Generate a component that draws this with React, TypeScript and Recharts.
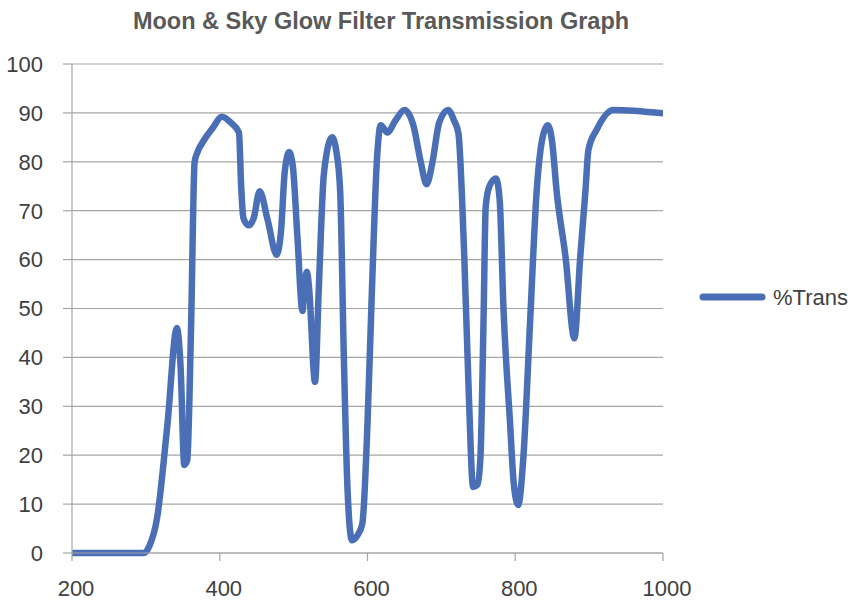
import React from 'react';
import { LineChart, Line, XAxis, YAxis, CartesianGrid, Legend } from 'recharts';

const title = 'Moon & Sky Glow Filter Transmission Graph';
const seriesName = '%Trans';

const wavelengths = [
  200, 250, 297, 305, 315, 329, 342, 347, 352, 356, 361, 366, 370, 379, 390, 403, 415, 426,
  429, 432, 439, 446, 454, 465, 477, 483, 488, 494, 499, 505, 512, 515, 518, 521, 529, 534,
  541, 552, 558, 563, 568, 573, 579, 586, 593, 600, 606, 613, 618, 627, 638, 650, 662, 672,
  680, 688, 697, 709, 717, 723, 731, 737, 743, 749, 753, 757, 760, 765, 774, 779, 784, 793,
  798, 804, 811, 820, 829, 837, 844, 850, 856, 868, 880, 888, 895, 899, 910, 933, 1000,
];

const transmission = [
  0, 0, 0, 1.5, 7, 26, 46, 38, 18, 19, 45, 80, 82, 84.5, 86.8, 89.2, 88, 86,
  75, 68.5, 67, 68.5, 74, 68, 61, 66, 78, 82, 79, 65, 49.5, 55, 57.5, 54, 35, 53.8,
  77.6, 85, 82, 74, 40, 12.8, 2.6, 3.5, 6, 26.5, 53.8, 81, 87.5, 86, 88.5, 90.6, 87.5, 80,
  75.4, 80, 88, 90.6, 88.5, 85.9, 60.6, 33, 13.5, 14, 20, 47, 70.8, 75, 76.6, 72, 50.3, 26.5,
  14.2, 9.8, 19.6, 47, 74, 85, 87.5, 84, 74, 60.6, 43.9, 60.6, 74, 82.4, 86.5, 90.6, 89.9,
];

const xTicks = [200, 400, 600, 800, 1000];
const yTicks = [0, 10, 20, 30, 40, 50, 60, 70, 80, 90, 100];

const data = wavelengths.map((w, i) => ({ wl: w, trans: transmission[i] }));

const lineColor = '#4a6fb6';
const gridColor = '#a6a6a6';
const textColor = '#404040';
const fontFamily = '"Liberation Sans", Arial, Helvetica, sans-serif';

const LegendContent = () => (
  <svg width={166} height={34}>
    <line x1={13} y1={17} x2={72} y2={17} stroke={lineColor} strokeWidth={7} strokeLinecap="round" />
    <text x={83} y={17} dy="0.36em" fontSize={22} fill={textColor} fontFamily={fontFamily}>
      {seriesName}
    </text>
  </svg>
);

export default function App() {
  return (
    <div style={{ position: 'absolute', left: 0, top: 0, width: 856, height: 601, background: '#fff' }}>
      <div
        style={{
          position: 'absolute',
          left: 0,
          top: 8,
          width: 762,
          textAlign: 'center',
          fontFamily,
          fontWeight: 'bold',
          fontSize: 23.5,
          color: '#595959',
          lineHeight: 'normal',
          whiteSpace: 'nowrap',
        }}
      >
        {title}
      </div>
      <LineChart
        width={856}
        height={601}
        data={data}
        margin={{ top: 64, right: 193, bottom: 18, left: 12 }}
      >
        <CartesianGrid horizontal vertical={false} stroke={gridColor} strokeWidth={1.2} />
        <XAxis
          dataKey="wl"
          type="number"
          domain={[200, 1000]}
          ticks={xTicks}
          height={30}
          stroke={gridColor}
          axisLine={{ stroke: gridColor, strokeWidth: 1.2 }}
          tickLine={{ stroke: gridColor, strokeWidth: 1.2 }}
          tickSize={8}
          tickMargin={19}
          tick={{ fill: textColor, fontSize: 22, fontFamily, dx: 4 }}
          allowDataOverflow
        />
        <YAxis
          type="number"
          domain={[0, 100]}
          ticks={yTicks}
          width={60}
          axisLine={{ stroke: gridColor, strokeWidth: 1.2 }}
          tickLine={{ stroke: gridColor, strokeWidth: 1.2 }}
          tickSize={9}
          tickMargin={20}
          tick={{ fill: textColor, fontSize: 22, fontFamily }}
        />
        <Legend
          layout="horizontal"
          align="center"
          verticalAlign="middle"
          wrapperStyle={{ left: 690, top: 280, width: 166, height: 34 }}
          content={LegendContent}
        />
        <Line
          type="monotone"
          dataKey="trans"
          name={seriesName}
          stroke={lineColor}
          strokeWidth={6.5}
          strokeLinejoin="round"
          strokeLinecap="round"
          dot={false}
          activeDot={false}
          isAnimationActive={false}
        />
      </LineChart>
    </div>
  );
}
